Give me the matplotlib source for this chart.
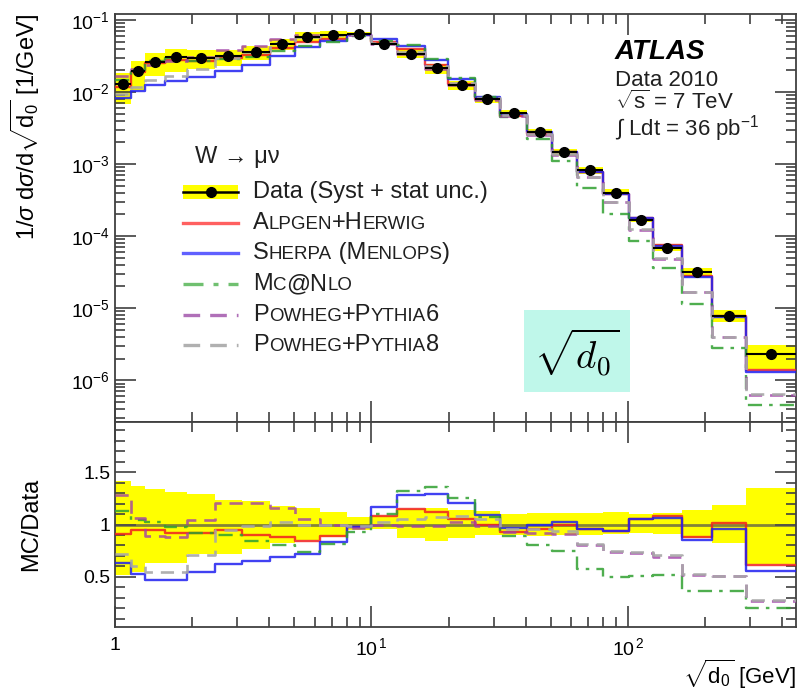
import matplotlib
matplotlib.use("Agg")
import matplotlib.pyplot as plt
import numpy as np
from matplotlib.ticker import LogLocator, FixedLocator, MultipleLocator, NullFormatter, FuncFormatter
from matplotlib.offsetbox import TextArea, HPacker, AnnotationBbox
from matplotlib.patches import Rectangle
from matplotlib.lines import Line2D

plt.rcParams['font.family'] = ['Liberation Sans', 'DejaVu Sans']
plt.rcParams['mathtext.fontset'] = 'custom'
plt.rcParams['mathtext.rm'] = 'Liberation Sans'
plt.rcParams['mathtext.it'] = 'Liberation Sans:italic'
plt.rcParams['mathtext.bf'] = 'Liberation Sans:bold'

# bin edges of sqrt(d0) [GeV]
edges = [1.0, 1.15, 1.31, 1.57, 1.91, 2.45, 3.13, 4.02, 5.03, 6.3, 8.02, 10.0, 12.6,
         16.2, 19.9, 25.3, 31.7, 40.4, 50.6, 63.2, 79.9, 101, 125, 162, 212, 288, 452]

# normalised cross section, data
data = [0.0131, 0.0197, 0.0263, 0.0302, 0.0293, 0.0316, 0.0362, 0.0463, 0.0585, 0.0618,
        0.0638, 0.0465, 0.034, 0.0214, 0.01245, 0.0079, 0.00507, 0.00275, 0.00145,
        0.000815, 0.000403, 1.69e-4, 6.9e-5, 3.19e-5, 7.8e-6, 2.3e-6]

# relative total uncertainty band (upper / lower edge, ratio to data)
band_up = [1.42, 1.37, 1.34, 1.31, 1.29, 1.23, 1.22, 1.18, 1.16, 1.12, 1.07, 1.08, 1.15,
           1.16, 1.14, 1.13, 1.10, 1.11, 1.11, 1.11, 1.12, 1.10, 1.11, 1.14, 1.19, 1.35]
band_dn = [0.52, 0.55, 0.63, 0.63, 0.72, 0.72, 0.77, 0.82, 0.85, 0.88, 0.95, 0.96, 0.87,
           0.84, 0.87, 0.90, 0.90, 0.89, 0.90, 0.90, 0.91, 0.92, 0.91, 0.87, 0.82, 0.62]

# MC / Data ratios
alpgen = [0.91, 0.95, 0.95, 0.92, 0.92, 0.95, 0.90, 0.88, 0.84, 0.89, 0.98, 1.08, 1.15,
          1.12, 1.05, 1.00, 0.93, 0.96, 1.00, 0.96, 0.94, 1.05, 1.08, 0.88, 1.01, 0.61]
sherpa = [0.63, 0.53, 0.47, 0.47, 0.55, 0.62, 0.65, 0.69, 0.72, 0.83, 0.98, 1.17, 1.28,
          1.29, 1.21, 1.09, 0.97, 1.00, 1.02, 0.96, 0.94, 1.05, 1.06, 0.85, 0.96, 0.56]
mcatnlo = [1.13, 1.04, 1.02, 0.98, 0.92, 0.90, 0.84, 0.80, 0.74, 0.81, 0.93, 1.10, 1.32,
           1.36, 1.25, 1.07, 0.89, 0.80, 0.75, 0.57, 0.50, 0.51, 0.52, 0.36, 0.36, 0.20]
powheg6 = [1.28, 1.06, 0.89, 0.88, 1.04, 1.21, 1.21, 1.16, 1.05, 1.00, 0.97, 1.00, 0.99,
           0.99, 1.02, 0.99, 0.93, 0.92, 0.91, 0.80, 0.74, 0.73, 0.69, 0.52, 0.51, 0.27]
powheg8 = [0.72, 0.60, 0.55, 0.55, 0.71, 0.95, 0.99, 1.02, 1.00, 1.00, 0.99, 1.02, 1.05,
           1.07, 1.08, 1.05, 0.96, 0.96, 0.94, 0.81, 0.75, 0.74, 0.71, 0.53, 0.51, 0.28]

labels = ["Data (Syst + stat unc.)", "Alpgen+Herwig", "Sherpa (Menlops)", "Mc@Nlo",
          "Powheg+Pythia6", "Powheg+Pythia8"]

mc_series = [
    (alpgen, dict(color='#f02020', ls='-', lw=1.7, alpha=0.85), '#ff6060'),
    (sherpa, dict(color='#2020f0', ls='-', lw=1.7, alpha=0.85), '#6060ff'),
    (mcatnlo, dict(color='#30a030', ls=(0, (6, 3, 1.5, 3)), lw=1.7, alpha=0.85), '#70c070'),
    (powheg6, dict(color='#a040a8', ls=(0, (5, 3)), lw=1.9, alpha=0.8), '#b070b8'),
    (powheg8, dict(color='#a8a8a8', ls=(0, (5, 3)), lw=1.9, alpha=0.9), '#b0b0b0'),
]

W, H = 807, 691
fig = plt.figure(figsize=(W / 100, H / 100), dpi=100)
ax1 = fig.add_axes([115 / W, 1 - 422 / H, (796 - 115) / W, (422 - 14) / H])
ax2 = fig.add_axes([115 / W, 1 - 627 / H, (796 - 115) / W, (627 - 422) / H], sharex=ax1)

e = np.array(edges)
d = np.array(data)
centres = np.sqrt(e[:-1] * e[1:])


def ext(v):
    v = np.asarray(v, dtype=float)
    return np.append(v, v[-1])


# ---- top panel
ax1.fill_between(e, ext(d * np.array(band_dn)), ext(d * np.array(band_up)),
                 step='post', color='#ffff00', lw=0, zorder=1)
for ratio, style, _ in mc_series:
    ax1.step(e, ext(d * np.array(ratio)), where='post', zorder=3, **style)
ax1.errorbar(centres, d, xerr=[centres - e[:-1], e[1:] - centres], fmt='o', color='black',
             ms=7, elinewidth=1.5, capsize=0, zorder=5)

ax1.set_xscale('log')
ax1.set_yscale('log')
ax1.set_xlim(1, 452)
ax1.set_ylim(10 ** -6.58, 10 ** -0.917)
ax1.set_ylabel(r'1/$\sigma$ d$\sigma$/d$\sqrt{\mathrm{d}_0}$ [1/GeV]', fontsize=17, loc='top')
ax1.yaxis.set_label_coords(-0.107, 1.0)
ax1.yaxis.set_major_locator(LogLocator(base=10, numticks=20))
ax1.yaxis.set_minor_locator(LogLocator(base=10, subs=np.arange(2, 10), numticks=20))
ax1.yaxis.set_minor_formatter(NullFormatter())
plt.setp(ax1.get_xticklabels(), visible=False)

# ---- ratio panel
ax2.fill_between(e, ext(band_dn), ext(band_up), step='post', color='#ffff00', lw=0, zorder=1)
ax2.axhline(1.0, color='#505050', lw=2, alpha=0.7, zorder=2)
for ratio, style, _ in mc_series:
    ax2.step(e, ext(ratio), where='post', zorder=3, **style)
ax2.set_ylim(0.02, 1.98)
ax2.yaxis.set_major_locator(FixedLocator([0.5, 1.0, 1.5]))
ax2.yaxis.set_minor_locator(MultipleLocator(0.1))
ax2.yaxis.set_major_formatter(FuncFormatter(lambda v, p: '1' if v == 1 else f'{v:g}'))
ax2.set_ylabel('MC/Data', fontsize=17)
ax2.yaxis.set_label_coords(-0.107, 0.5)
ax2.set_xlabel(r'$\sqrt{\mathrm{d}_0}$ [GeV]', fontsize=16, loc='right', labelpad=-1)
ax2.xaxis.set_major_locator(FixedLocator([1, 10, 100]))
ax2.xaxis.set_minor_locator(LogLocator(base=10, subs=np.arange(2, 10), numticks=20))
ax2.xaxis.set_minor_formatter(NullFormatter())
ax2.xaxis.set_major_formatter(FuncFormatter(
    lambda v, p: '1' if v == 1 else r'$10^{\,%d}$' % round(np.log10(v))))

for ax in (ax1, ax2):
    ax.tick_params(which='both', direction='in', top=True, right=True, labelsize=14,
                   width=1.2, color='#404040')
    ax.tick_params(which='major', length=15)
    ax.tick_params(which='minor', length=7.5)
    ax.tick_params(axis='x', pad=7)
    for s in ax.spines.values():
        s.set_linewidth(1.3)
        s.set_color('#404040')


# ---- legend drawn by hand, small caps for generator names
def fx(px):
    return px / W


def fy(py):
    return 1 - py / H


def smallcaps_box(text, big=17, small=13.5):
    parts = []
    run, low = '', None
    for ch in text:
        is_low = ch.islower()
        if low is None or is_low == low:
            run += ch
        else:
            parts.append((run, low))
            run = ch
        low = is_low
    parts.append((run, low))
    areas = [TextArea(r.upper() if lo else r, textprops=dict(fontsize=small if lo else big,
                                                              color='#202020'))
             for r, lo in parts]
    return HPacker(children=areas, align='baseline', pad=0, sep=0)


fig.text(fx(195), fy(157), 'W \u2192 \u03bc\u03bd', fontsize=17, va='center', color='#202020')

rows_y = [192, 223, 253, 284, 315, 345]
hx0, hx1 = 183, 238
fig.patches.append(Rectangle((fx(hx0), fy(199)), fx(hx1) - fx(hx0), fy(185) - fy(199),
                             transform=fig.transFigure, color='#ffff00', lw=0))
fig.lines.append(Line2D([fx(hx0), fx(hx1)], [fy(192), fy(192)], transform=fig.transFigure,
                        color='black', lw=1.8))
fig.lines.append(Line2D([fx((hx0 + hx1) / 2)], [fy(192)], transform=fig.transFigure,
                        color='black', marker='o', ms=7, ls='none'))
fig.text(fx(253), fy(192), labels[0], fontsize=17, va='center', color='#202020')
for (ratio, style, lcol), lab, yy in zip(mc_series, labels[1:], rows_y[1:]):
    fig.lines.append(Line2D([fx(hx0), fx(hx1)], [fy(yy), fy(yy)], transform=fig.transFigure,
                            color=lcol, ls=style['ls'], lw=2.4))
    ab = AnnotationBbox(smallcaps_box(lab), (fx(253), fy(yy)), xycoords='figure fraction',
                        box_alignment=(0, 0.5), frameon=False, pad=0)
    fig.add_artist(ab)

# ---- ATLAS label
fig.text(fx(615), fy(52), 'ATLAS', fontsize=20, fontweight='bold', fontstyle='italic',
         va='center')
fig.text(fx(615), fy(86), 'Data 2010', fontsize=16, va='baseline', color='#202020')
fig.text(fx(615), fy(109), r'$\sqrt{\mathrm{s}}$ = 7 TeV', fontsize=16, va='baseline',
         color='#202020')
fig.text(fx(615), fy(136), r'$\int$ Ldt = 36 pb$^{-1}$', fontsize=16, va='baseline',
         color='#202020')

# ---- observable tag
fig.patches.append(Rectangle((fx(524), fy(392)), fx(630) - fx(524), fy(310) - fy(392),
                             transform=fig.transFigure, color='#bff7ea', lw=0, zorder=10))
fig.text(fx(577), fy(352), r'$\sqrt{d_0}$', fontsize=28, math_fontfamily='cm',
         ha='center', va='center', zorder=11)

fig.savefig('out.png', dpi=100)
